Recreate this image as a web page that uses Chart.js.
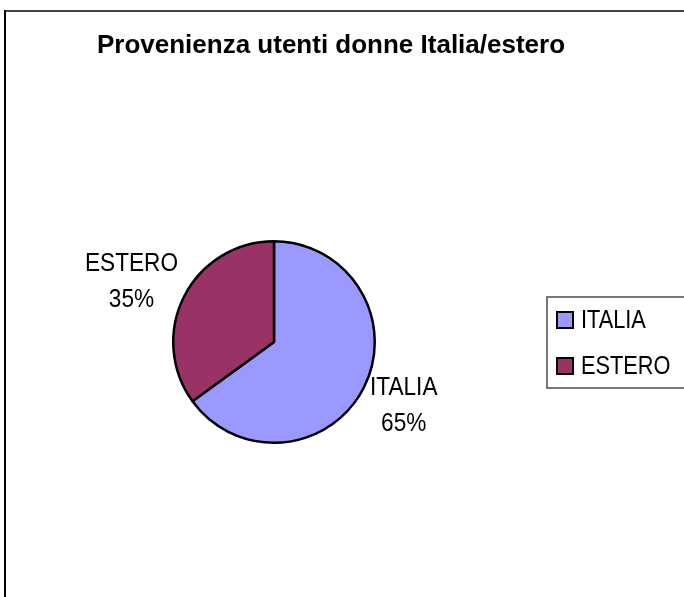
<!DOCTYPE html>
<html>
<head>
<meta charset="utf-8">
<script src="https://cdn.jsdelivr.net/npm/chart.js@4/dist/chart.umd.min.js"></script>
<style>
  html, body { margin: 0; padding: 0; background: #fff; }
  #wrap { width: 684px; height: 597px; }
</style>
</head>
<body>
<div id="wrap"><canvas id="torta"></canvas></div>
<script>
const titleText = 'Provenienza utenti donne Italia/estero';
const labels = ['ITALIA', 'ESTERO'];
const percent = [65, 35];
const colors = ['#9999FF', '#993366'];

const FONT = '"Liberation Sans", Arial, sans-serif';
const SX = 0.87; // excel-like narrow text

function narrowText(ctx, text, x, y, align) {
  ctx.save();
  ctx.translate(x, y);
  ctx.scale(SX, 1);
  ctx.textAlign = align || 'left';
  ctx.fillText(text, 0, 0);
  ctx.restore();
}

const decorations = {
  id: 'decorations',
  afterDraw(chart) {
    const ctx = chart.ctx;
    ctx.save();

    // frame (only top and left visible)
    ctx.lineWidth = 2;
    ctx.strokeStyle = '#444';
    ctx.beginPath();
    ctx.moveTo(4, 11);
    ctx.lineTo(684, 11);
    ctx.stroke();
    ctx.strokeStyle = '#000';
    ctx.beginPath();
    ctx.moveTo(5, 10);
    ctx.lineTo(5, 597);
    ctx.stroke();

    // title
    ctx.fillStyle = '#000';
    ctx.font = 'bold 26px ' + FONT;
    ctx.textAlign = 'center';
    ctx.textBaseline = 'alphabetic';
    ctx.fillText(titleText, 331, 53);

    // slice labels
    ctx.font = '26px ' + FONT;
    const arcs = chart.getDatasetMeta(0).data;
    arcs.forEach((arc, i) => {
      const p = arc.getProps(['x', 'y', 'startAngle', 'endAngle', 'outerRadius'], true);
      const mid = (p.startAngle + p.endAngle) / 2;
      const cos = Math.cos(mid), sin = Math.sin(mid);
      const lines = [labels[i], percent[i] + '%'];
      const w = Math.max(...lines.map(t => ctx.measureText(t).width * SX));
      const edge = p.x + cos * (p.outerRadius + 7);
      const bx = cos < 0 ? edge - w / 2 : edge + w / 2;
      const yc = p.y + sin * (p.outerRadius + 36);
      narrowText(ctx, lines[0], bx, yc - 9, 'center');
      narrowText(ctx, lines[1], bx, yc + 27, 'center');
    });

    // legend
    ctx.lineWidth = 2;
    ctx.strokeStyle = '#777';
    ctx.strokeRect(547, 297, 140, 91);
    ctx.font = '25px ' + FONT;
    labels.forEach((lab, i) => {
      const y = 328 + i * 46;
      ctx.fillStyle = colors[i];
      ctx.fillRect(557, y - 16, 16, 16);
      ctx.strokeStyle = '#000';
      ctx.strokeRect(557, y - 16, 16, 16);
      ctx.fillStyle = '#000';
      narrowText(ctx, lab, 581, y, 'left');
    });

    ctx.restore();
  }
};

new Chart(document.getElementById('torta'), {
  type: 'pie',
  data: {
    labels: labels,
    datasets: [{
      data: percent,
      backgroundColor: colors,
      borderColor: '#000',
      borderWidth: 2.5
    }]
  },
  options: {
    responsive: true,
    maintainAspectRatio: false,
    animation: false,
    layout: { padding: { left: 172, right: 308, top: 240, bottom: 153 } },
    plugins: {
      legend: { display: false },
      title: { display: false },
      tooltip: { enabled: false }
    }
  },
  plugins: [decorations]
});
</script>
</body>
</html>
